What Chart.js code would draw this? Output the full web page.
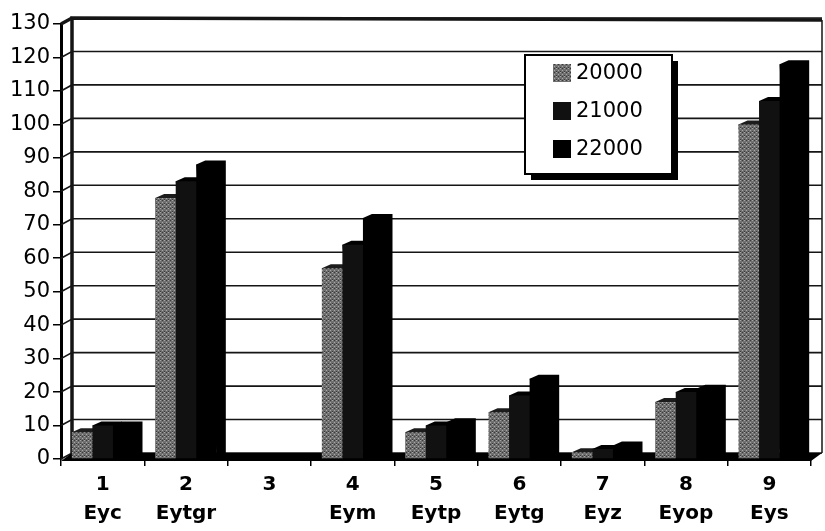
<!DOCTYPE html>
<html>
<head>
<meta charset="utf-8">
<script src="https://cdn.jsdelivr.net/npm/chart.js@4.4.1/dist/chart.umd.min.js"></script>
<style>
  html, body { margin: 0; padding: 0; background: #fff; }
  #wrap { width: 825px; height: 531px; }
</style>
</head>
<body>
<div id="wrap"><canvas id="bars"></canvas></div>
<script>
// Chart data
const categories = [['1', 'Eyc'], ['2', 'Eytgr'], ['3', ''], ['4', 'Eym'], ['5', 'Eytp'],
                    ['6', 'Eytg'], ['7', 'Eyz'], ['8', 'Eyop'], ['9', 'Eys']];
const seriesNames = ['20000', '21000', '22000'];
const values20000 = [8, 78, 0, 57, 8, 14, 2, 17, 100];
const values21000 = [10, 83, 0, 64, 10, 19, 3, 20, 107];
const values22000 = [10, 88, 0, 72, 11, 24, 4, 21, 118];
const yTicks = [0, 10, 20, 30, 40, 50, 60, 70, 80, 90, 100, 110, 120, 130];

// depth offsets for the fake 3D look
const WALL = { dx: 11, dy: 6 };
const BAR = { dx: 9, dy: 4 };

// speckled grey fill for the first series
function speckle() {
    const c = document.createElement('canvas');
    c.width = 4; c.height = 4;
    const g = c.getContext('2d');
    g.fillStyle = '#6f6f6f';
    g.fillRect(0, 0, 4, 4);
    g.fillStyle = '#a8a8a8';
    g.fillRect(0, 0, 1, 1);
    g.fillRect(2, 2, 1, 1);
    g.fillStyle = '#3a3a3a';
    g.fillRect(2, 0, 1, 1);
    g.fillRect(0, 3, 1, 1);
    return g.createPattern(c, 'repeat');
}

const fills = [speckle(), '#111111', '#000000'];
const sideFills = ['#1c1c1c', '#000000', '#000000'];

const depth3d = {
    id: 'depth3d',
    beforeDatasetsDraw(chart) {
        const { ctx, chartArea: a, scales: { y } } = chart;
        ctx.save();
        // back wall grid + side wall diagonals
        ctx.strokeStyle = '#151515';
        ctx.lineWidth = 1.6;
        yTicks.forEach(t => {
            const py = y.getPixelForValue(t);
            ctx.beginPath();
            ctx.moveTo(a.left, py);
            ctx.lineTo(a.left + WALL.dx, py - WALL.dy);
            ctx.lineTo(a.right + WALL.dx, py - WALL.dy);
            ctx.stroke();
        });
        // back wall left edge, top and right border
        ctx.lineWidth = 3.5;
        ctx.beginPath();
        ctx.moveTo(a.left + WALL.dx, a.bottom - WALL.dy);
        ctx.lineTo(a.left + WALL.dx, a.top - WALL.dy);
        ctx.lineTo(a.right + WALL.dx, a.top - WALL.dy + 2);
        ctx.stroke();
        ctx.beginPath();
        ctx.moveTo(a.left, a.top);
        ctx.lineTo(a.left + WALL.dx, a.top - WALL.dy);
        ctx.stroke();
        ctx.lineWidth = 1.5;
        ctx.beginPath();
        ctx.moveTo(a.right + WALL.dx, a.top - WALL.dy + 2);
        ctx.lineTo(a.right + WALL.dx, a.bottom - WALL.dy);
        ctx.stroke();
        // floor
        ctx.fillStyle = '#000';
        ctx.beginPath();
        ctx.moveTo(a.left, a.bottom + 2);
        ctx.lineTo(a.right, a.bottom + 2);
        ctx.lineTo(a.right + WALL.dx, a.bottom - WALL.dy);
        ctx.lineTo(a.left + WALL.dx, a.bottom - WALL.dy);
        ctx.closePath();
        ctx.fill();
        // bar tops and sides
        chart.data.datasets.forEach((ds, i) => {
            chart.getDatasetMeta(i).data.forEach(bar => {
                const p = bar.getProps(['x', 'y', 'base', 'width'], true);
                if (p.base - p.y < 0.5) return;
                const l = p.x - p.width / 2, r = p.x + p.width / 2;
                ctx.fillStyle = sideFills[i];
                ctx.beginPath();
                ctx.moveTo(l, p.y);
                ctx.lineTo(l + BAR.dx, p.y - BAR.dy);
                ctx.lineTo(r + BAR.dx, p.y - BAR.dy);
                ctx.lineTo(r + BAR.dx, p.base - BAR.dy);
                ctx.lineTo(r, p.base);
                ctx.closePath();
                ctx.fill();
            });
        });
        ctx.restore();
    }
};

const boxLegend = {
    id: 'boxLegend',
    afterDraw(chart) {
        const ctx = chart.ctx;
        const bx = 525, by = 55, bw = 147, bh = 119;
        ctx.save();
        ctx.fillStyle = '#000';
        ctx.fillRect(bx + 6, by + 6, bw, bh);
        ctx.fillStyle = '#fff';
        ctx.fillRect(bx, by, bw, bh);
        ctx.strokeStyle = '#000';
        ctx.lineWidth = 2;
        ctx.strokeRect(bx, by, bw, bh);
        ctx.font = '21px "DejaVu Sans", sans-serif';
        ctx.textBaseline = 'middle';
        chart.data.datasets.forEach((ds, i) => {
            const cy = 73 + i * 38;
            ctx.fillStyle = ds.backgroundColor;
            ctx.fillRect(553, cy - 9, 18, 18);
            ctx.fillStyle = '#000';
            ctx.fillText(ds.label, 576, cy + 1);
        });
        ctx.restore();
    }
};

const barsConfig = {
    type: 'bar',
    data: {
        labels: categories,
        datasets: [
            { label: seriesNames[0], data: values20000, backgroundColor: fills[0] },
            { label: seriesNames[1], data: values21000, backgroundColor: fills[1] },
            { label: seriesNames[2], data: values22000, backgroundColor: fills[2] }
        ]
    },
    options: {
        responsive: true,
        maintainAspectRatio: false,
        animation: false,
        events: [],
        layout: { padding: { top: 24, right: 14, left: 0, bottom: 0 } },
        datasets: { bar: { categoryPercentage: 0.74, barPercentage: 1.0, borderWidth: 0 } },
        plugins: { legend: { display: false }, tooltip: { enabled: false } },
        scales: {
            x: {
                grid: { display: true, drawOnChartArea: false, offset: true, color: '#000', lineWidth: 1.5, tickLength: 7 },
                border: { display: false },
                ticks: {
                    color: '#000',
                    padding: 4,
                    maxRotation: 0,
                    autoSkip: false,
                    font: { family: '"DejaVu Sans", sans-serif', size: 20, weight: 'bold', lineHeight: 1.45 }
                },
                afterFit(scale) { scale.height = 72; }
            },
            y: {
                min: 0,
                max: 130,
                afterBuildTicks(scale) { scale.ticks = yTicks.map(v => ({ value: v })); },
                grid: { display: true, drawOnChartArea: false, color: '#000', lineWidth: 1.5, tickLength: 8 },
                border: { display: true, color: '#000', width: 3 },
                ticks: {
                    color: '#000',
                    padding: 3,
                    font: { family: '"DejaVu Sans", sans-serif', size: 21 }
                },
                afterFit(scale) { scale.width = 61; }
            }
        }
    },
    plugins: [depth3d, boxLegend]
};

const barsCanvas = document.getElementById('bars').getContext('2d');
const barsChart = new Chart(barsCanvas, barsConfig);
</script>
</body>
</html>
